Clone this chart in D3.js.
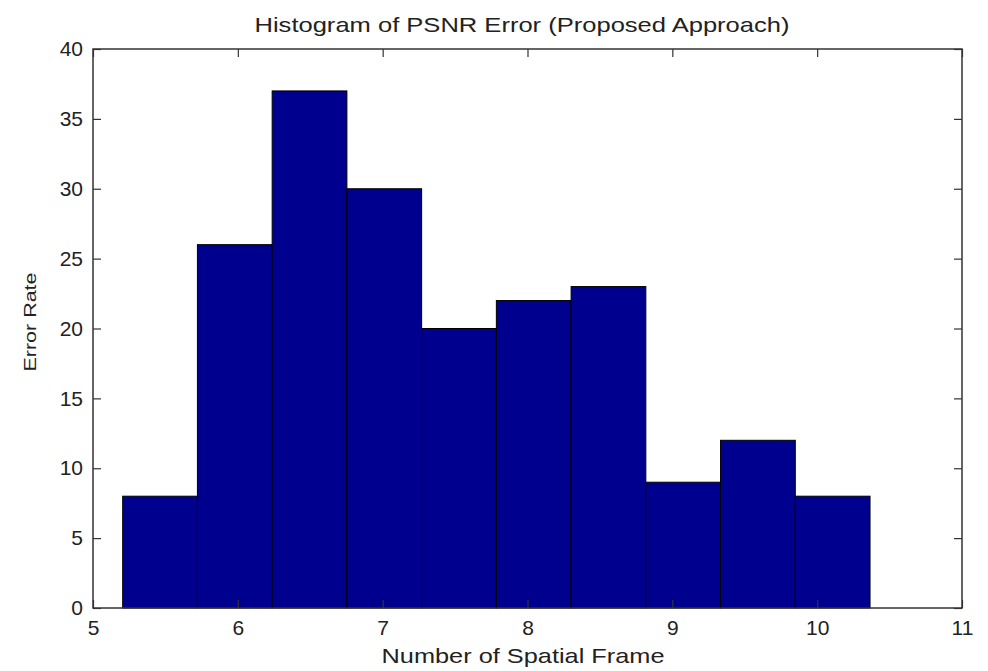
<!DOCTYPE html>
<html>
<head>
<meta charset="utf-8">
<script src="https://cdn.jsdelivr.net/npm/d3@7"></script>
<style>
  body { margin: 0; background: #fff; }
  text { font-family: "Liberation Sans", Arial, sans-serif; fill: #222; }
</style>
</head>
<body>
<div id="chart"></div>
<script>
// histogram bins (edges) and counts
var binStart = 5.205;
var binWidth = 0.516;
var counts = [8, 26, 37, 30, 20, 22, 23, 9, 12, 8];
var xTicks = [5, 6, 7, 8, 9, 10, 11];
var yTicks = [0, 5, 10, 15, 20, 25, 30, 35, 40];

var w = 988, h = 671;
var padL = 93, padR = 962, padT = 49, padB = 608;

var x = d3.scaleLinear().domain([5, 11]).range([padL, padR]);
var y = d3.scaleLinear().domain([0, 40]).range([padB, padT]);

var svg = d3.select("#chart").append("svg")
  .attr("width", w)
  .attr("height", h);

var bins = counts.map(function(c, i) {
  return { x0: binStart + i * binWidth, x1: binStart + (i + 1) * binWidth, n: c };
});

svg.selectAll("rect.bar")
  .data(bins)
  .enter()
  .append("rect")
  .attr("class", "bar")
  .attr("x", function(d) { return x(d.x0); })
  .attr("y", function(d) { return y(d.n); })
  .attr("width", function(d) { return x(d.x1) - x(d.x0); })
  .attr("height", function(d) { return y(0) - y(d.n); })
  .attr("fill", "#00008f")
  .attr("stroke", "#000")
  .attr("stroke-width", 1);

// box
svg.append("rect")
  .attr("x", padL).attr("y", padT)
  .attr("width", padR - padL).attr("height", padB - padT)
  .attr("fill", "none")
  .attr("stroke", "#333")
  .attr("stroke-width", 1.5);

var tickLen = 8;
var fmt = d3.format("d");

// x ticks on bottom and top
var xb = svg.append("g").attr("transform", "translate(0," + padB + ")")
  .call(d3.axisBottom(x).tickValues(xTicks).tickFormat(fmt).tickSizeInner(-tickLen).tickSizeOuter(0).tickPadding(12));
var xt = svg.append("g").attr("transform", "translate(0," + padT + ")")
  .call(d3.axisTop(x).tickValues(xTicks).tickSizeInner(-tickLen).tickSizeOuter(0).tickFormat(""));

// y ticks on left and right
var yl = svg.append("g").attr("transform", "translate(" + padL + ",0)")
  .call(d3.axisLeft(y).tickValues(yTicks).tickFormat(fmt).tickSizeInner(-tickLen).tickSizeOuter(0).tickPadding(10));
var yr = svg.append("g").attr("transform", "translate(" + padR + ",0)")
  .call(d3.axisRight(y).tickValues(yTicks).tickSizeInner(-tickLen).tickSizeOuter(0).tickFormat(""));

[xb, xt, yl, yr].forEach(function(g) {
  g.select(".domain").remove();
  g.selectAll("line").attr("stroke", "#333").attr("stroke-width", 1.2);
  g.selectAll("text")
    .attr("font-size", 21)
    .attr("font-family", "Liberation Sans, Arial, sans-serif")
    .attr("fill", "#222");
});

// title and axis labels
svg.append("text")
  .attr("x", 522)
  .attr("y", 32)
  .attr("text-anchor", "middle")
  .attr("font-size", 21)
  .attr("textLength", 535)
  .attr("lengthAdjust", "spacingAndGlyphs")
  .text("Histogram of PSNR Error (Proposed Approach)");

svg.append("text")
  .attr("x", 523)
  .attr("y", 663)
  .attr("text-anchor", "middle")
  .attr("font-size", 21)
  .attr("textLength", 283)
  .attr("lengthAdjust", "spacingAndGlyphs")
  .text("Number of Spatial Frame");

svg.append("text")
  .attr("transform", "translate(36,322) rotate(-90)")
  .attr("text-anchor", "middle")
  .attr("font-size", 17)
  .attr("textLength", 99)
  .attr("lengthAdjust", "spacingAndGlyphs")
  .text("Error Rate");
</script>
</body>
</html>
